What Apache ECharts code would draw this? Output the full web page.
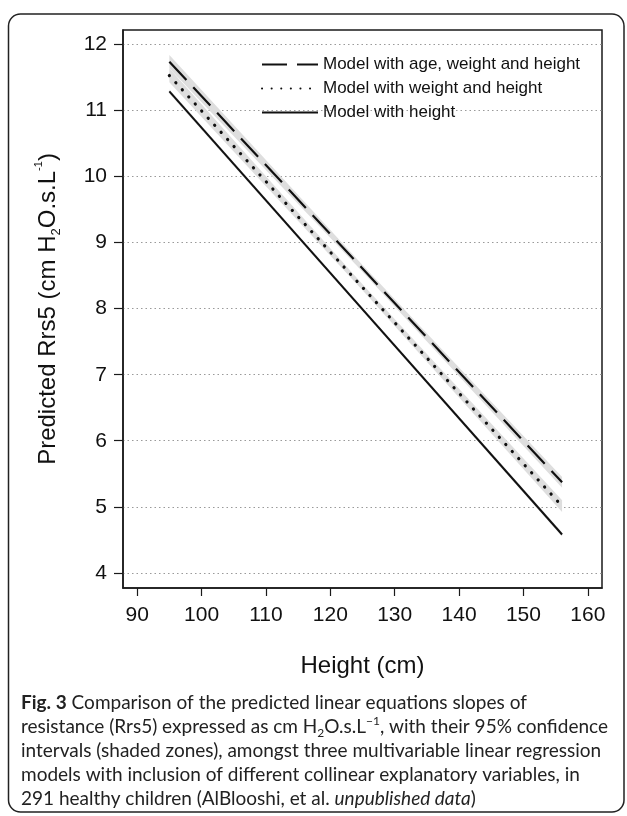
<!DOCTYPE html>
<html>
<head>
<meta charset="utf-8">
<script src="https://cdn.jsdelivr.net/npm/echarts@6/dist/echarts.min.js"></script>
<style>
html,body{margin:0;padding:0;background:#fff;}
#chart{width:627px;height:816px;}
</style>
</head>
<body>
<div id="chart"></div>
<script>
// ---- data ----
const seriesNames = ['Model with age, weight and height', 'Model with weight and height', 'Model with height'];
const lineX = [95, 156];
const ageLine = [11.74, 5.37];
const weightLine = [11.53, 5.01];
const heightLine = [11.29, 4.58];

const bandX = [95, 125, 156];
const ageLower = [11.64, 8.56, 5.29];
const ageUpper = [11.84, 8.66, 5.45];
const weightLower = [11.43, 8.28, 4.92];
const weightUpper = [11.64, 8.37, 5.10];
const heightLower = [11.26, 7.97, 4.55];
const heightUpper = [11.32, 8.01, 4.61];

const xTicks = [90, 100, 110, 120, 130, 140, 150, 160];
const yTicks = [4, 5, 6, 7, 8, 9, 10, 11, 12];
const xRange = [87.8, 162.2];
const yRange = [3.77, 12.22];

// ---- helpers ----
function pairs(xs, ys) { return xs.map((x, i) => [x, ys[i]]); }

const BAND = '#dedede';
function bandSeries(lo, hi) {
  const data = bandX.map((x, i) => [x, lo[i], hi[i]]);
  return {
    type: 'custom', silent: true, z: 1,
    data: data,
    encode: { x: 0, y: [1, 2] },
    renderItem: function (params, api) {
      if (params.dataIndex !== 0) return null;
      const top = data.map(d => api.coord([d[0], d[2]]));
      const bot = data.map(d => api.coord([d[0], d[1]])).reverse();
      return { type: 'polygon', shape: { points: top.concat(bot) }, style: { fill: BAND } };
    }
  };
}

const FONT = 'Liberation Sans, Arial, Helvetica, sans-serif';
const CAP = 'Lato, "Open Sans", sans-serif';

const chart = echarts.init(document.getElementById('chart'), null, { renderer: 'canvas' });

const capStyle = (extra) => Object.assign({ fontFamily: CAP, fontSize: 19, color: '#222', lineHeight: 24, fontWeight: 'normal', verticalAlign: 'middle' }, extra || {});

const option = {
  backgroundColor: '#fff',
  animation: false,
  grid: { left: 123, right: 25, top: 30, bottom: 228, show: true, borderColor: '#1a1a1a', borderWidth: 1.5, backgroundColor: 'transparent' },
  xAxis: {
    type: 'value', min: xRange[0], max: xRange[1],
    name: 'Height (cm)', nameLocation: 'middle', nameGap: 66,
    nameTextStyle: { fontFamily: FONT, fontSize: 24, color: '#111' },
    axisLine: { show: true, lineStyle: { color: '#1a1a1a', width: 1.5 } },
    axisTick: { show: true, length: 8, lineStyle: { color: '#1a1a1a', width: 1.2 }, customValues: xTicks },
    axisLabel: { fontFamily: FONT, fontSize: 21, color: '#111', margin: 17, customValues: xTicks },
    splitLine: { show: false }
  },
  yAxis: {
    type: 'value', min: yRange[0], max: yRange[1],
    name: '{a|Predicted Rrs5 (cm H}{sub|2}{a|O.s.L}{sup|-1}{a|)}', nameLocation: 'middle', nameGap: 60,
    nameTextStyle: {
      fontFamily: FONT, fontSize: 24, color: '#111',
      rich: {
        a: { fontFamily: FONT, fontSize: 24, color: '#111', lineHeight: 30, verticalAlign: 'middle' },
        sub: { fontFamily: FONT, fontSize: 13, color: '#111', lineHeight: 18, verticalAlign: 'bottom' },
        sup: { fontFamily: FONT, fontSize: 11, color: '#111', lineHeight: 14, verticalAlign: 'top' }
      }
    },
    axisLine: { show: true, lineStyle: { color: '#1a1a1a', width: 1.5 } },
    axisTick: { show: true, length: 9, lineStyle: { color: '#1a1a1a', width: 1.2 }, customValues: yTicks },
    axisLabel: { fontFamily: FONT, fontSize: 21, color: '#111', margin: 16, customValues: yTicks },
    splitLine: { show: true, lineStyle: { color: '#9a9a9a', width: 1.2, type: [1.5, 3] } }
  },
  legend: {
    show: true, orient: 'vertical', left: 256, top: 51, itemGap: 7,
    itemWidth: 56, itemHeight: 16,
    textStyle: { fontFamily: FONT, fontSize: 17, color: '#111' },
    data: seriesNames,
    selectedMode: false
  },
  series: [
    bandSeries(ageLower, ageUpper),
    bandSeries(weightLower, weightUpper),
    bandSeries(heightLower, heightUpper),
    { name: seriesNames[0], type: 'line', data: pairs(lineX, ageLine), symbol: 'none', z: 3,
      itemStyle: { color: '#111', opacity: 0 },
      lineStyle: { color: '#111', width: 2.2, type: [25, 10] } },
    { name: seriesNames[1], type: 'line', data: pairs(lineX, weightLine), symbol: 'none', z: 3,
      itemStyle: { color: '#111', opacity: 0 },
      lineStyle: { color: '#111', width: 3.2, type: [0.1, 9.5], cap: 'round' } },
    { name: seriesNames[2], type: 'line', data: pairs(lineX, heightLine), symbol: 'none', z: 3,
      itemStyle: { color: '#111', opacity: 0 },
      lineStyle: { color: '#111', width: 2 } }
  ],
  title: {
    left: 16, top: 686,
    text: '{b|Fig. 3} {n|Comparison of the predicted linear equations slopes of}\n' +
          '{n|resistance (Rrs5) expressed as cm H}{sub|2}{n|O.s.L}{sup|\u22121}{n|, with their 95% confidence}\n' +
          '{n|intervals (shaded zones), amongst three multivariable linear regression}\n' +
          '{n|models with inclusion of different collinear explanatory variables, in}\n' +
          '{n|291 healthy children (AlBlooshi, et al. }{i|unpublished data}{n|)}',
    textStyle: {
      fontFamily: CAP, fontSize: 19, color: '#222', lineHeight: 24, fontWeight: 'normal',
      rich: {
        n: capStyle(),
        b: capStyle({ fontWeight: 'bold' }),
        i: capStyle({ fontStyle: 'italic' }),
        sub: capStyle({ fontSize: 12, lineHeight: 16, verticalAlign: 'bottom' }),
        sup: capStyle({ fontSize: 12, lineHeight: 12, verticalAlign: 'top' })
      }
    }
  },
  graphic: [
    { type: 'rect', silent: true, z: 100,
      shape: { x: 8.5, y: 14, width: 615.5, height: 798, r: 12 },
      style: { fill: 'none', stroke: '#222', lineWidth: 1.5 } }
  ]
};
chart.setOption(option);
</script>
</body>
</html>
